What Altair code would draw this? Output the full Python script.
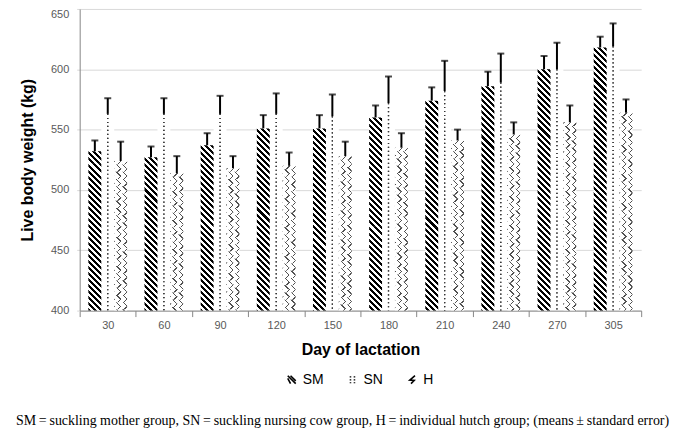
import math
import altair as alt
import pandas as pd

# ---------------- data ----------------
days = ["30", "60", "90", "120", "150", "180", "210", "240", "270", "305"]
groups = ["SM", "SN", "H"]
sm_mean = [532, 527, 537, 551, 551, 560, 574, 586, 600, 618]
sm_se = [9, 9, 10, 11, 11, 10, 11, 12, 11, 9]
sn_mean = [563, 563, 563, 563, 561, 572, 582, 589, 600, 619]
sn_se = [13, 13, 15, 17, 18, 22, 25, 24, 22, 19]
h_mean = [524, 514, 518, 520, 528, 535, 541, 546, 556, 564]
h_se = [16, 14, 10, 11, 12, 12, 9, 10, 14, 11]
y_ticks = [400, 450, 500, 550, 600, 650]
caption = ("SM\u2009=\u2009suckling mother group, SN\u2009=\u2009suckling nursing cow group, "
           "H\u2009=\u2009individual hutch group; (means\u2009\u00b1\u2009standard error)")

# ---------------- layout constants ----------------
W, H = 564, 303
Y_MIN, Y_MAX = 400, 650
PX_PER_UNIT = H / (Y_MAX - Y_MIN)
OFF_PAD = 0.674
SUB_W = (W / len(days)) / (len(groups) + 2 * OFF_PAD)

rows = []
for g, means, ses in (("SM", sm_mean, sm_se), ("SN", sn_mean, sn_se), ("H", h_mean, h_se)):
    for d, m, s in zip(days, means, ses):
        rows.append(dict(day=d, group=g, mean=m, upper=m + s))
df = pd.DataFrame(rows)


def segments(group, means, step, gap):
    out = []
    for d, m in zip(days, means):
        top, k = m, 0
        while top > Y_MIN:
            out.append(dict(day=d, group=group, top=top, bottom=top - step - gap, k=k))
            top -= step
            k += 1
    return pd.DataFrame(out)


def stripe_gradient(w, h, period, s, phase, frac, color, bg="white"):
    """Diagonal stripes in a w x h box: c = (s*px + py)/period + phase."""
    k = (h + w) / (w * w + h * h)
    if s > 0:
        x1, y1, cmin = 0.0, 0.0, phase
    else:
        x1, y1, cmin = 1.0, 0.0, phase - w / period
    x2, y2 = x1 + s * k * w, y1 + k * h
    span = (w + h) / period
    stops = [alt.GradientStop(offset=0, color=bg)]
    m = math.floor(cmin) - 1
    while m < cmin + span + 1:
        ta = max(0.0, (m - cmin) / span)
        tb = min(1.0, (m + frac - cmin) / span)
        if tb > ta:
            stops += [alt.GradientStop(offset=ta, color=bg), alt.GradientStop(offset=ta, color=color),
                      alt.GradientStop(offset=tb, color=color), alt.GradientStop(offset=tb, color=bg)]
        m += 1
    stops.append(alt.GradientStop(offset=1, color=bg))
    return alt.LinearGradient(gradient="linear", stops=stops, x1=x1, y1=y1, x2=x2, y2=y2)


SEG_SM, GAP = 5.0, 0.4
SEG_H = 3.0
sm_seg = segments("SM", sm_mean, SEG_SM, GAP)
h_seg = segments("H", h_mean, SEG_H, GAP)
h_even = h_seg[h_seg.k % 2 == 0]
h_odd = h_seg[h_seg.k % 2 == 1]

P_SM = SEG_SM * PX_PER_UNIT
grad_sm = stripe_gradient(SUB_W, (SEG_SM + GAP) * PX_PER_UNIT, P_SM, -1, 0.0, 0.5, "#000000")
P_H = 6.5
hh = SEG_H * PX_PER_UNIT
ph1 = 0.0
ph2 = -ph1 - hh / P_H
grad_h1 = stripe_gradient(SUB_W, (SEG_H + GAP) * PX_PER_UNIT, P_H, 1, ph1, 0.2, "#505050")
grad_h2 = stripe_gradient(SUB_W, (SEG_H + GAP) * PX_PER_UNIT, P_H, -1, ph2, 0.2, "#505050")

# ---------------- encodings ----------------
FONT = "Liberation Sans"
x_axis = alt.Axis(title="Day of lactation", titleFont=FONT, titleFontSize=16, titleFontWeight="bold",
                  titleColor="#000000", titleY=39, titleBaseline="middle",
                  labelFont=FONT, labelFontSize=11, labelColor="#595959", labelPadding=3, labelAngle=0,
                  tickBand="extent", tickSize=6, tickColor="#868686", domainColor="#868686", grid=False)
y_axis = alt.Axis(title="Live body weight (kg)", titleFont=FONT, titleFontSize=16, titleFontWeight="bold",
                  titleColor="#000000", titleX=-52, titleY=H / 2, titleBaseline="middle", titleAngle=-90,
                  values=y_ticks, labelFont=FONT, labelFontSize=11, labelColor="#595959", labelPadding=8,
                  labelBaseline={"condition": {"test": "datum.value >= 650", "value": "top"},
                                 "value": "middle"},
                  tickSize=3, tickColor="#d9d9d9", domainColor="#868686", gridColor="#d9d9d9")
x_scale = alt.Scale(domain=days, paddingInner=0, paddingOuter=0)
y_scale = alt.Scale(domain=[Y_MIN, Y_MAX], zero=False, nice=False)
off_scale = alt.Scale(domain=groups, paddingInner=0, paddingOuter=OFF_PAD)


def X(band=None):
    if band is None:
        return alt.X("day:N", sort=days, scale=x_scale, axis=x_axis)
    return alt.X("day:N", sort=days, scale=x_scale, axis=x_axis, bandPosition=band)


def XO():
    return alt.XOffset("group:N", sort=groups, scale=off_scale)


def Yf(field):
    return alt.Y(field, type="quantitative", scale=y_scale, axis=y_axis)


base = alt.Chart(df)
sn_base = base.transform_filter(alt.datum.group == "SN")

sn_bars = sn_base.mark_bar(color="white", clip=True).encode(
    x=X(), xOffset=XO(), y=Yf("mean"), y2=alt.Y2(datum=Y_MIN))
sn_dots_l = sn_base.mark_rule(color="#333333", strokeWidth=1.3, strokeDash=[1.2, 2.8]).encode(
    x=X(0.22), xOffset=XO(), y=Yf("mean"), y2=alt.Y2(datum=Y_MIN))
sn_dots_r = sn_base.mark_rule(color="#333333", strokeWidth=1.3, strokeDash=[1.2, 2.8]).encode(
    x=X(0.7), xOffset=XO(), y=Yf("mean"), y2=alt.Y2(datum=Y_MIN))

sm_bars = alt.Chart(sm_seg).mark_bar(fill=grad_sm, clip=True).encode(
    x=X(), xOffset=XO(), y=Yf("top"), y2="bottom")
h_bars1 = alt.Chart(h_even).mark_bar(fill=grad_h1, clip=True).encode(
    x=X(), xOffset=XO(), y=Yf("top"), y2="bottom")
h_bars2 = alt.Chart(h_odd).mark_bar(fill=grad_h2, clip=True).encode(
    x=X(), xOffset=XO(), y=Yf("top"), y2="bottom")

err = base.mark_rule(color="black", strokeWidth=2).encode(
    x=X(), xOffset=XO(), y=Yf("mean"), y2="upper")
caps = base.mark_tick(color="black", thickness=2, size=7, orient="horizontal").encode(
    x=X(), xOffset=XO(), y=Yf("upper"))

legend_paths = [
    "M-1,-0.3L-0.3,1M-1,-1L1,1M-0.3,-1L1,0.3",
    "M-0.5,-0.9L-0.5,-0.6M-0.5,-0.15L-0.5,0.15M-0.5,0.6L-0.5,0.9M0.5,-0.9L0.5,-0.6M0.5,-0.15L0.5,0.15M0.5,0.6L0.5,0.9",
    "M0.7,-1L-0.6,0.1L0.5,0.2L-0.3,1",
]
legend_layer = alt.Chart(pd.DataFrame({"group": groups})).mark_point(
    opacity=0, filled=False, color="black").encode(
    shape=alt.Shape("group:N", sort=groups,
                    scale=alt.Scale(domain=groups, range=legend_paths),
                    legend=alt.Legend(title=None, orient="none", legendX=206, legendY=365,
                                      direction="horizontal", labelFont=FONT, labelFontSize=14,
                                      labelColor="#000000", symbolSize=64, symbolStrokeWidth=1.6,
                                      symbolOpacity=1, symbolStrokeColor="black",
                                      columnPadding=22, labelOffset=4)))

cap_text = alt.Chart(pd.DataFrame({"t": [caption]})).mark_text(
    font="Liberation Serif", fontSize=14, color="#000000", align="center", baseline="middle").encode(
    text="t:N", x=alt.value(264), y=alt.value(414))

chart = alt.layer(
    sn_bars, sm_bars, h_bars1, h_bars2, sn_dots_l, sn_dots_r, err, caps, legend_layer, cap_text
).properties(
    width=W, height=H,
    autosize=alt.AutoSizeParams(type="none"),
    padding={"left": 72, "top": 0, "right": 40, "bottom": 122},
    background="white",
).configure_view(stroke=None)

chart.save("out.html", embed_options={"renderer": "svg", "actions": False})
